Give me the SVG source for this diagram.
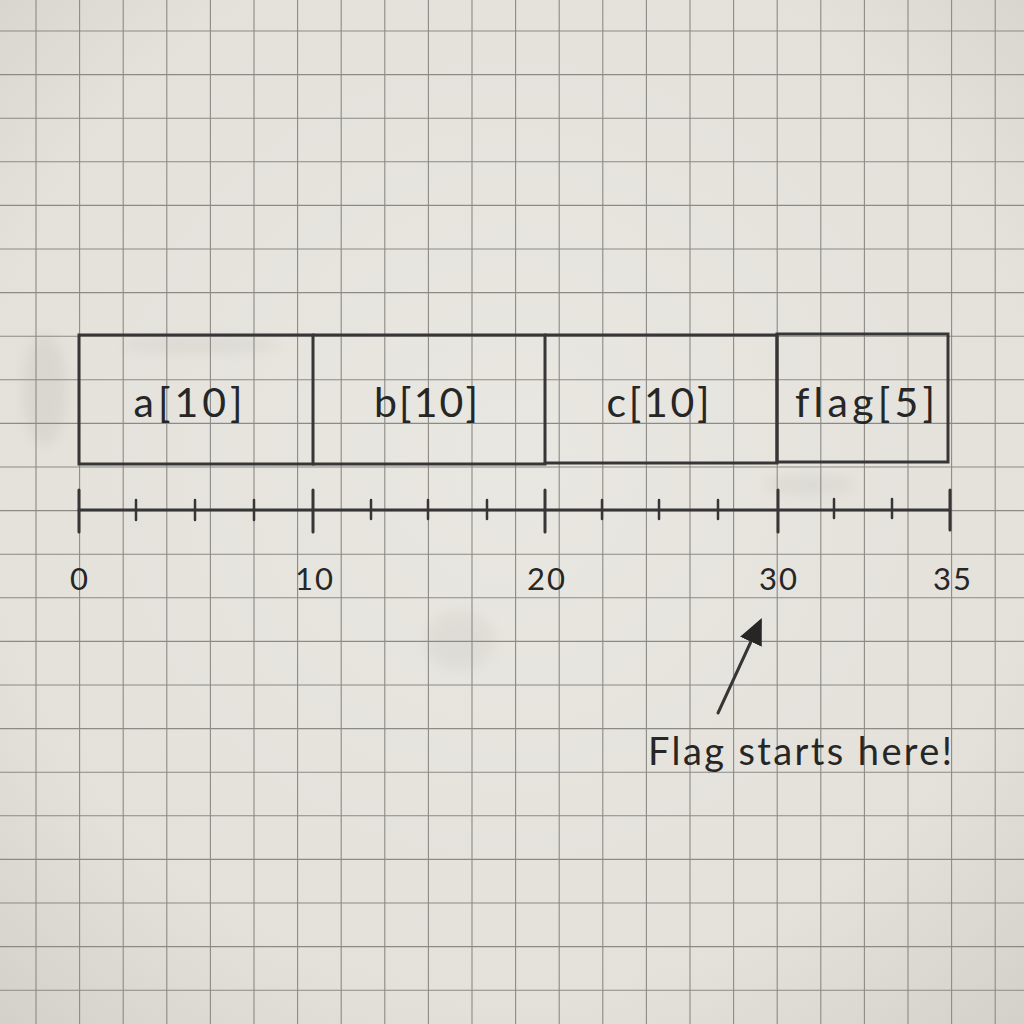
<svg xmlns="http://www.w3.org/2000/svg" width="1024" height="1024" viewBox="0 0 1024 1024">
  <defs>
    <radialGradient id="paper" cx="50%" cy="45%" r="75%">
      <stop offset="0" stop-color="#e9e7e1"/>
      <stop offset="0.7" stop-color="#e3e1da"/>
      <stop offset="1" stop-color="#d2d0c9"/>
    </radialGradient>
    <filter id="blur" x="-50%" y="-50%" width="200%" height="200%">
      <feGaussianBlur stdDeviation="6"/>
    </filter>
    <marker id="head" viewBox="0 0 12 12" refX="10" refY="6" markerWidth="26" markerHeight="26" markerUnits="userSpaceOnUse" orient="auto">
      <path d="M0,0.5 L12,6 L0,11.5 z" fill="#262626"/>
    </marker>
    <style>
      .grid { stroke: #8b8a86; stroke-width: 1.1; fill: none; }
      .ink { stroke: #363636; stroke-width: 3; fill: none; stroke-linecap: round; }
      .tick { stroke: #363636; stroke-width: 3; stroke-linecap: round; }
      .small { stroke: #363636; stroke-width: 2.5; stroke-linecap: round; }
      .lbl { font-family: Lato, "Open Sans", "Noto Sans", sans-serif; font-weight: 400; fill: #262626; text-anchor: middle; font-variant-ligatures: none; }
      .cell { font-size: 41px; }
      .num { font-size: 31px; letter-spacing: 2px; }
      .note { font-size: 38px; text-anchor: start; }
    </style>
  </defs>

  <rect width="1024" height="1024" fill="url(#paper)"/>

  <!-- smudges -->
  <g opacity="0.18" filter="url(#blur)">
    <ellipse cx="45" cy="390" rx="22" ry="55" fill="#a9a7a1"/>
    <ellipse cx="200" cy="345" rx="80" ry="8" fill="#b3b1ab"/>
    <ellipse cx="810" cy="485" rx="45" ry="10" fill="#b3b1ab"/>
    <ellipse cx="460" cy="640" rx="35" ry="30" fill="#bbb9b3"/>
  </g>

  <!-- graph paper grid -->
  <path class="grid" d="
    M36,0 V1024 M79.6,0 V1024 M123.2,0 V1024 M166.8,0 V1024 M210.4,0 V1024 M254,0 V1024
    M297.6,0 V1024 M341.2,0 V1024 M384.8,0 V1024 M428.4,0 V1024 M472,0 V1024 M515.6,0 V1024
    M559.2,0 V1024 M602.8,0 V1024 M646.4,0 V1024 M690,0 V1024 M733.6,0 V1024 M777.2,0 V1024
    M820.8,0 V1024 M864.4,0 V1024 M908,0 V1024 M951.6,0 V1024 M995.2,0 V1024
    M0,31 H1024 M0,74.6 H1024 M0,118.2 H1024 M0,161.8 H1024 M0,205.4 H1024 M0,249 H1024
    M0,292.6 H1024 M0,336.2 H1024 M0,379.8 H1024 M0,423.4 H1024 M0,467 H1024 M0,510.6 H1024
    M0,554.2 H1024 M0,597.8 H1024 M0,641.4 H1024 M0,685 H1024 M0,728.6 H1024 M0,772.2 H1024
    M0,815.8 H1024 M0,859.4 H1024 M0,903 H1024 M0,946.6 H1024 M0,990.2 H1024"/>

  <!-- memory cells -->
  <g id="cell-a">
    <path class="ink" d="M79,335 H313 V464 H79 Z"/>
    <text class="lbl cell" x="188" y="417" textLength="109" lengthAdjust="spacing">a[10]</text>
  </g>
  <g id="cell-b">
    <path class="ink" d="M313,335 H545 V464 H313"/>
    <text class="lbl cell" x="426" y="417" textLength="104" lengthAdjust="spacing">b[10]</text>
  </g>
  <g id="cell-c">
    <path class="ink" d="M545,335 H777 V463 H545"/>
    <text class="lbl cell" x="658" y="417" textLength="103" lengthAdjust="spacing">c[10]</text>
  </g>
  <g id="cell-flag">
    <path class="ink" d="M777,334 H948 V462 H777 Z"/>
    <text class="lbl cell" x="865" y="417" textLength="140" lengthAdjust="spacing">flag[5]</text>
  </g>

  <!-- axis -->
  <g id="axis">
    <path class="ink" d="M79,510 H950"/>
    <path class="tick" d="M79,490 V532 M313,490 V532 M545,490 V532 M778,490 V532 M950,490 V530"/>
    <path class="small" d="M136,500 V520 M195,500 V520 M254,500 V520
      M371,500 V519 M428,500 V519 M487,500 V519
      M602,500 V519 M659,500 V519 M718,500 V519
      M834,499 V518 M892,499 V518"/>
    <text class="lbl num" x="80" y="590">0</text>
    <text class="lbl num" x="315" y="590">10</text>
    <text class="lbl num" x="547" y="590">20</text>
    <text class="lbl num" x="779" y="590">30</text>
    <text class="lbl num" x="953" y="590">35</text>
  </g>

  <!-- annotation -->
  <g id="note">
    <text class="lbl note" x="648" y="765" textLength="304" lengthAdjust="spacing">Flag starts here!</text>
  </g>

  <g id="connectors">
    <path class="ink" d="M718,713 L760,622" stroke-width="3" marker-end="url(#head)" stroke="#262626"/>
  </g>
</svg>
